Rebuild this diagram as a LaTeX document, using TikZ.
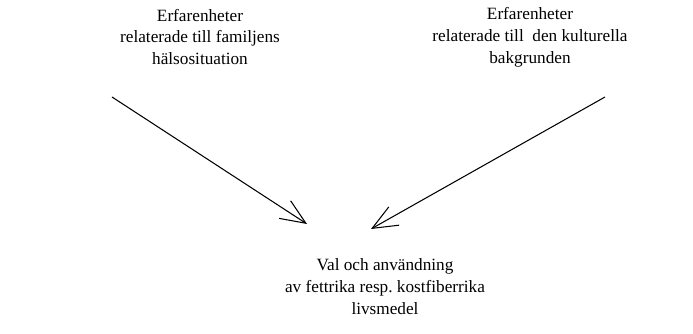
\documentclass[tikz,border=0pt]{standalone}
\usepackage{fontspec}
\setmainfont{Liberation Serif}
\usetikzlibrary{arrows.meta}
\frenchspacing
\begin{document}
\begin{tikzpicture}[
  txt/.style={align=center,font=\fontsize{9.8}{12.5}\selectfont},
  pil/.style={-{Straight Barb[length=5mm,width=4.2mm]},semithick}]
\useasboundingbox (0,0) rectangle (13.86,6.68);
\node [txt] (famil) at (4.0,5.94) {Erfarenheter\\relaterade till familjens\\hälsosituation};
\node [txt] (kultur) at (10.6,5.94) {Erfarenheter\\relaterade till \ den kulturella\\bakgrunden};
\node [txt] (val) at (7.7,0.94) {Val och användning\\av fettrika resp. kostfiberrika\\livsmedel};

\coordinate (a1) at (2.24,4.74);
\coordinate (a2) at (6.14,2.20);
\coordinate (b1) at (12.10,4.74);
\coordinate (b2) at (7.42,2.10);
\draw [pil] (a1) -- (a2);
\draw [pil] (b1) -- (b2);
\end{tikzpicture}
\end{document}
